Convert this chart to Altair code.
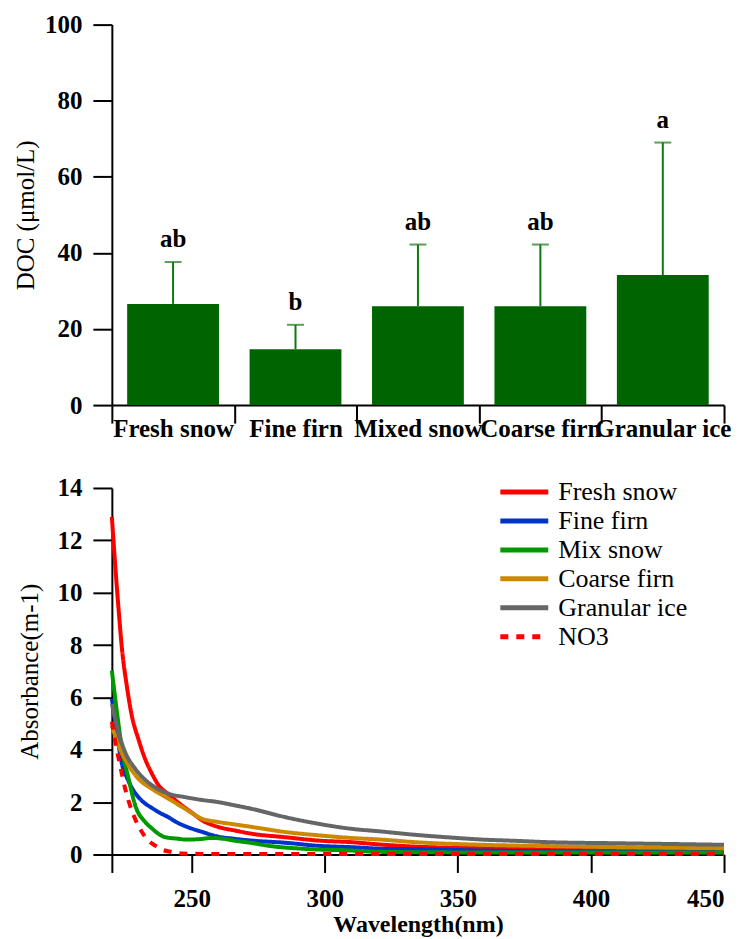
import altair as alt
import pandas as pd

FONT = "Liberation Serif"

# ---------------- top panel data ----------------
categories = ["Fresh snow", "Fine firn", "Mixed snow", "Coarse firn", "Granular ice"]
doc_mean = [26.6, 14.7, 26.0, 26.0, 34.2]
doc_upper = [37.6, 21.1, 42.2, 42.2, 69.0]
letters = ["ab", "b", "ab", "ab", "a"]

# ---------------- bottom panel data ----------------
series_names = ["Fresh snow", "Fine firn", "Mix snow", "Coarse firn", "Granular ice", "NO3"]
series_colors = ["#ff0000", "#0033cc", "#009900", "#cc8800", "#666666", "#ff0000"]

fresh_wl = [220, 221.3, 222.5, 223.8, 225.6, 227.5, 230, 232.5, 235, 237.5, 241.3, 246, 250, 254, 260, 266, 272.7, 285, 297.8, 310, 321, 334, 360, 384, 410, 450]
fresh_ab = [12.9, 11.0, 9.4, 7.85, 6.45, 5.3, 4.4, 3.65, 3.1, 2.65, 2.3, 1.9, 1.6, 1.3, 1.05, 0.92, 0.79, 0.66, 0.53, 0.47, 0.38, 0.3, 0.24, 0.22, 0.19, 0.15]

fine_wl = [220, 221.3, 222.5, 223.8, 225.6, 227.5, 231.3, 235, 238.8, 241.3, 244, 247.6, 254, 260, 266, 272.7, 285, 297.8, 310, 321, 334, 360, 384, 410, 450]
fine_ab = [5.95, 5.05, 4.2, 3.45, 2.95, 2.55, 2.05, 1.78, 1.55, 1.42, 1.25, 1.08, 0.86, 0.68, 0.6, 0.53, 0.45, 0.33, 0.28, 0.22, 0.2, 0.15, 0.12, 0.1, 0.08]

mix_wl = [220, 221.9, 223.8, 226.3, 228.8, 232.5, 235, 237.5, 240, 245, 247.6, 252, 257.6, 262, 266, 272, 279, 291.5, 310, 321, 350, 400, 450]
mix_ab = [7.03, 5.44, 4.04, 2.89, 1.87, 1.24, 1.0, 0.79, 0.66, 0.6, 0.57, 0.58, 0.63, 0.6, 0.53, 0.45, 0.33, 0.22, 0.15, 0.1, 0.08, 0.08, 0.08]

coarse_wl = [220, 222.5, 226.3, 230, 235, 241.3, 247.6, 254, 260, 266, 272.7, 285, 297.8, 310, 321, 334, 359, 384, 410, 450]
coarse_ab = [4.93, 4.16, 3.4, 2.89, 2.51, 2.13, 1.74, 1.36, 1.24, 1.15, 1.05, 0.86, 0.73, 0.63, 0.57, 0.47, 0.37, 0.32, 0.28, 0.24]

granular_wl = [220, 222.5, 225, 228.8, 235, 241.3, 247.6, 254, 260, 266, 272.7, 285, 297.8, 310, 321, 334, 347, 359, 372, 384, 409, 430, 450]
granular_ab = [5.75, 4.67, 3.91, 3.27, 2.65, 2.32, 2.19, 2.08, 2.0, 1.88, 1.74, 1.43, 1.17, 0.98, 0.88, 0.75, 0.65, 0.57, 0.52, 0.47, 0.43, 0.40, 0.37]

no3_wl = [220, 221.3, 223.1, 225, 228.2, 231.3, 233.5, 236.3, 239, 242.6, 246, 255, 300, 350, 400, 450]
no3_ab = [5.07, 4.29, 3.4, 2.51, 1.49, 0.86, 0.55, 0.34, 0.18, 0.1, 0.04, 0.02, 0.02, 0.02, 0.02, 0.02]

series_wl = [fresh_wl, fine_wl, mix_wl, coarse_wl, granular_wl, no3_wl]
series_ab = [fresh_ab, fine_ab, mix_ab, coarse_ab, granular_ab, no3_ab]

rows = []
for order, (name, wls, abs_) in enumerate(zip(series_names, series_wl, series_ab)):
    for w, a in zip(wls, abs_):
        rows.append({"series": name, "wl": w, "ab": a, "order": order})
spec_df = pd.DataFrame(rows)

bar_df = pd.DataFrame({"cat": categories, "mean": doc_mean, "upper": doc_upper, "letter": letters})

axis_common = dict(
    labelFont=FONT, labelFontSize=25, labelFontWeight="bold", labelColor="black",
    titleFont=FONT, titleColor="black",
    domainColor="black", tickColor="black", domainWidth=2, tickWidth=2, grid=False,
)

xcat = alt.X(
    "cat:N", sort=categories,
    scale=alt.Scale(paddingInner=0, paddingOuter=0),
    axis=alt.Axis(title=None, labelAngle=0, tickBand="extent", tickSize=18, labelPadding=-7, **axis_common),
)
ydoc = alt.Y(
    "mean:Q",
    scale=alt.Scale(domain=[0, 100], nice=False),
    axis=alt.Axis(title="DOC (μmol/L)", values=[0, 20, 40, 60, 80, 100], tickSize=19, labelPadding=11,
                  titleFontSize=25, titleFontWeight="normal", titlePadding=6, **axis_common),
)

base = alt.Chart(bar_df)
bars = base.mark_bar(color="#006400", width=alt.RelativeBandSize(0.75)).encode(x=xcat, y=ydoc)
err = base.mark_rule(color="#117711", strokeWidth=2).encode(x=xcat, y="mean:Q", y2="upper:Q")
caps = base.mark_tick(color="#117711", size=17, thickness=2).encode(x=xcat, y="upper:Q")
txt = base.mark_text(font=FONT, fontSize=25, fontWeight="bold", color="black", baseline="alphabetic", dy=-15).encode(
    x=xcat, y="upper:Q", text="letter:N")

top = alt.layer(bars, err, caps, txt).properties(width=613, height=381)

leg = alt.Legend(title=None, orient="none", legendX=400, legendY=-9,
                 symbolType="M-4,0H4", symbolSize=144, symbolStrokeWidth=5,
                 labelFont=FONT, labelFontSize=26, labelColor="black",
                 rowPadding=3, labelOffset=21)

line = alt.Chart(spec_df).mark_line(strokeWidth=4, interpolate="monotone").encode(
    x=alt.X("wl:Q", scale=alt.Scale(domain=[220, 450], nice=False),
            axis=alt.Axis(title="Wavelength(nm)", values=[220, 250, 300, 350, 400, 450],
                          labelExpr="datum.value == 220 ? '' : datum.label",
                          tickSize=18, labelPadding=14, titleFontSize=24, titleFontWeight="bold",
                          titlePadding=1, **axis_common)),
    y=alt.Y("ab:Q", scale=alt.Scale(domain=[0, 14], nice=False),
            axis=alt.Axis(title="Absorbance(m-1)", values=[0, 2, 4, 6, 8, 10, 12, 14], tickSize=19,
                          labelPadding=11, titleFontSize=25, titleFontWeight="normal", titlePadding=14,
                          **axis_common)),
    color=alt.Color("series:N", scale=alt.Scale(domain=series_names, range=series_colors), legend=leg),
    strokeDash=alt.StrokeDash("series:N", scale=alt.Scale(domain=series_names,
                              range=[[1, 0], [1, 0], [1, 0], [1, 0], [1, 0], [8, 8]]), legend=leg),
    order="order:Q",
    detail="series:N",
).properties(width=613, height=367)

chart = (
    alt.vconcat(top, line, spacing=35)
    .resolve_legend(color="independent", strokeDash="independent")
    .properties(padding={"top": 4, "left": 5, "right": 5, "bottom": 0})
    .configure_view(stroke=None)
)

chart.save("out.html", embed_options={"renderer": "svg", "actions": False})
